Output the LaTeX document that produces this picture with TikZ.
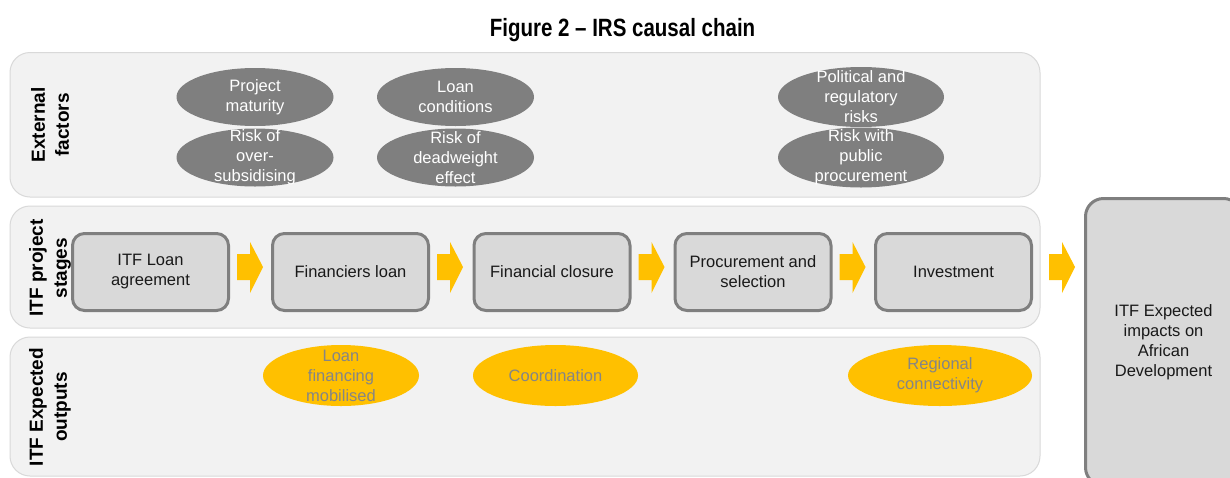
\documentclass[tikz,border=0pt]{standalone}
\usepackage{fontspec}
\setmainfont{Liberation Sans}
\newfontfamily\titlefont[FakeStretch=0.82,Ligatures=TeX]{Liberation Sans}
\usetikzlibrary{shapes.geometric,calc}
\definecolor{panelfill}{HTML}{F2F2F2}
\definecolor{panelline}{HTML}{D9D9D9}
\definecolor{boxfill}{HTML}{D9D9D9}
\definecolor{boxline}{HTML}{7F7F7F}
\definecolor{ellgray}{HTML}{7F7F7F}
\definecolor{yel}{HTML}{FFC000}
\definecolor{txtgray}{HTML}{858585}
\newcommand\myfont{\fontsize{16.5}{20}\selectfont}
\newcommand\mysidefont{\fontsize{19}{24}\selectfont\bfseries}
\newcommand\yarr[1]{\fill[yel] #1 -- ++(0,-13) -- ++(13,0) -- ++(0,-12) -- ++(13,25) -- ++(-13,26) -- ++(0,-13) -- ++(-13,0) -- cycle;}
\begin{document}
\begin{tikzpicture}[x=1pt,y=-1pt,
  panel/.style={draw=panelline, line width=1pt, fill=panelfill, rounded corners=20pt, inner sep=0pt, minimum width=1030pt},
  sidelabel/.style={rotate=90, align=center, font=\mysidefont, text=black, inner sep=0pt},
  stagebox/.style={draw=boxline, line width=3pt, fill=boxfill, rounded corners=12pt, minimum width=156pt, minimum height=77pt, inner sep=0pt, align=center, font=\myfont, text=black!90},
  gell/.style={ellipse, fill=ellgray, inner sep=0pt, minimum width=157pt, minimum height=58pt},
  yell/.style={ellipse, fill=yel, inner sep=0pt, minimum height=61pt},
  etext/.style={align=center, font=\myfont, text=white, inner sep=0pt},
  ytext/.style={align=center, font=\myfont, text=txtgray, inner sep=0pt}
]
\clip (0,0) rectangle (1230,477);
\fill[white] (0,0) rectangle (1230,477);

% title
\node[anchor=base, font=\titlefont\bfseries\fontsize{25}{28}\selectfont, inner sep=0pt] (title) at (622.5,36.5) {Figure 2 – IRS causal chain};

% panels
\node[panel, minimum height=144.5pt] (pext) at (525,124.75) {};
\node[panel, minimum height=122pt] (pstg) at (525,267) {};
\node[panel, minimum height=139pt] (pout) at (525,406.5) {};

% side labels
\node[sidelabel] (lext) at (50,125) {External\\factors};
\node[sidelabel] (lstg) at (50,268) {ITF project\\stages};
\node[sidelabel] (lout) at (50,407) {ITF Expected\\outputs};

% external factor ellipses
\node[gell] (e1) at (255,97) {};
\node[gell] (e2) at (255,157.5) {};
\node[gell] (e3) at (455.5,97) {};
\node[gell] (e4) at (455.5,157.5) {};
\node[gell, minimum width=166pt, minimum height=60pt] (e5) at (861,97) {};
\node[gell, minimum width=166pt, minimum height=60pt] (e6) at (861,157.5) {};
\node[etext] (t1) at (e1.center) {Project\\maturity};
\node[etext] (t2) at (e2.center) {Risk of\\over-\\subsidising};
\node[etext] (t3) at (e3.center) {Loan\\conditions};
\node[etext] (t4) at (e4.center) {Risk of\\deadweight\\effect};
\node[etext] (t5) at (e5.center) {Political and\\regulatory\\risks};
\node[etext] (t6) at (e6.center) {Risk with\\public\\procurement};

% stage boxes
\node[stagebox] (s1) at (150.5,272) {ITF Loan\\agreement};
\node[stagebox] (s2) at (350.5,272) {Financiers loan};
\node[stagebox] (s3) at (552,272) {Financial closure};
\node[stagebox] (s4) at (753,272) {Procurement and\\selection};
\node[stagebox] (s5) at (953.5,272) {Investment};
\node[stagebox, rounded corners=18pt, minimum height=287pt] (imp) at (1163.5,342) {ITF Expected\\impacts on\\African\\Development};

% block arrows
\yarr{($(s1.east)+(7,-5)$)}
\yarr{($(s2.east)+(7,-5)$)}
\yarr{($(s3.east)+(7,-5)$)}
\yarr{($(s4.east)+(7,-5)$)}
\yarr{($(s5.east)+(16,-5)$)}

% outputs
\node[yell, minimum width=156pt] (o1) at (341,375.5) {};
\node[yell, minimum width=165pt] (o2) at (555.5,375.5) {};
\node[yell, minimum width=184pt] (o3) at (940,375.5) {};
\node[ytext] (u1) at (o1.center) {Loan\\financing\\mobilised};
\node[ytext] (u2) at (o2.center) {Coordination};
\node[ytext] (u3) at (o3.center) {Regional\\connectivity};
\end{tikzpicture}
\end{document}
